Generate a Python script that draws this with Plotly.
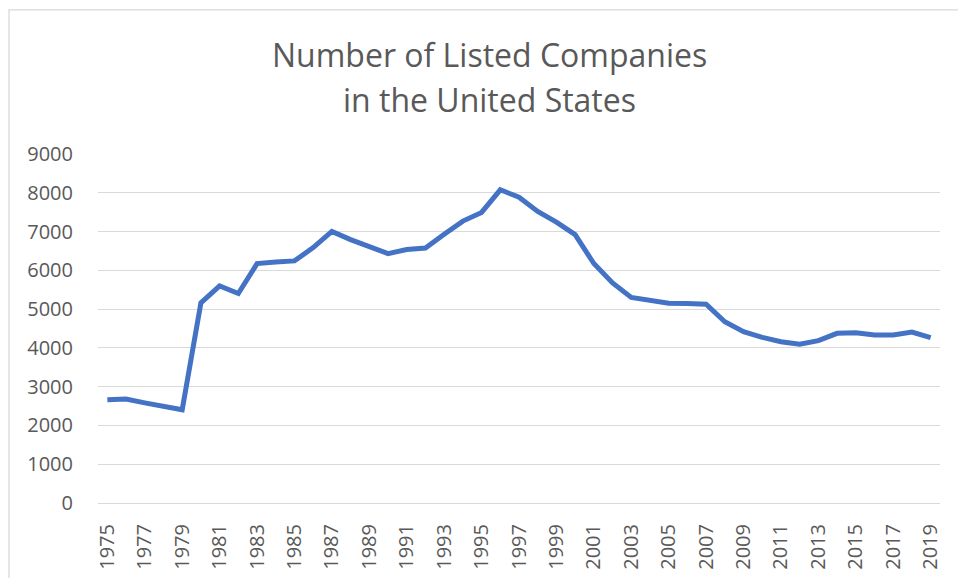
import plotly.graph_objects as go

years = list(range(1975, 2020))
companies = [2660, 2680, 2583, 2489, 2404, 5162, 5600, 5403, 6175, 6217,
             6243, 6586, 7005, 6792, 6628, 6432, 6535, 6576, 6928, 7270,
             7494, 8077, 7887, 7519, 7245, 6920, 6175, 5676, 5300, 5231,
             5154, 5146, 5128, 4674, 4417, 4272, 4160, 4092, 4186, 4375,
             4392, 4332, 4332, 4409, 4263]
title_lines = ["Number of Listed Companies", "in the United States"]

W, H = 958, 578
L, R, T, B = 98, 18, 153.5, 74.5
pw, ph = W - L - R, H - T - B

def px_x(x):
    return (x - L) / pw

def px_y(y):
    return (H - B - y) / ph

fig = go.Figure()
fig.add_trace(go.Scatter(x=years, y=companies, mode="lines",
                         line=dict(color="#4472C4", width=5),
                         hoverinfo="x+y"))

font_family = "Open Sans, DejaVu Sans, sans-serif"
grey = "#595959"

fig.update_layout(
    width=W, height=H,
    margin=dict(l=L, r=R, t=T, b=B, pad=0, autoexpand=False),
    paper_bgcolor="white", plot_bgcolor="white",
    showlegend=False,
    font=dict(family=font_family, color=grey, size=20),
    xaxis=dict(range=[1974.5, 2019.5], tick0=1975, dtick=2, tickangle=-90,
               showgrid=False, zeroline=False, showline=False, ticks="",
               ticklabelstandoff=16, automargin=False,
               tickfont=dict(size=20, color=grey, family=font_family)),
    yaxis=dict(range=[0, 9000], dtick=1000, showgrid=True, gridcolor="#d9d9d9",
               gridwidth=1.3, zeroline=True, zerolinecolor="#d9d9d9", zerolinewidth=1.3,
               showline=False, ticks="", ticklabelstandoff=24, automargin=False,
               tickfont=dict(size=20, color=grey, family=font_family)),
)

fig.add_shape(type="rect", xref="paper", yref="paper",
              x0=px_x(9), x1=px_x(975), y0=px_y(600), y1=px_y(9),
              line=dict(color="#d9d9d9", width=1.3), fillcolor="rgba(0,0,0,0)",
              layer="below")

for text, yc in zip(title_lines, [54, 99]):
    fig.add_annotation(text=text, xref="paper", yref="paper",
                       x=px_x(489), y=px_y(yc), xanchor="center", yanchor="middle",
                       showarrow=False,
                       font=dict(size=32, color=grey, family=font_family))

fig.write_html("out.html")
